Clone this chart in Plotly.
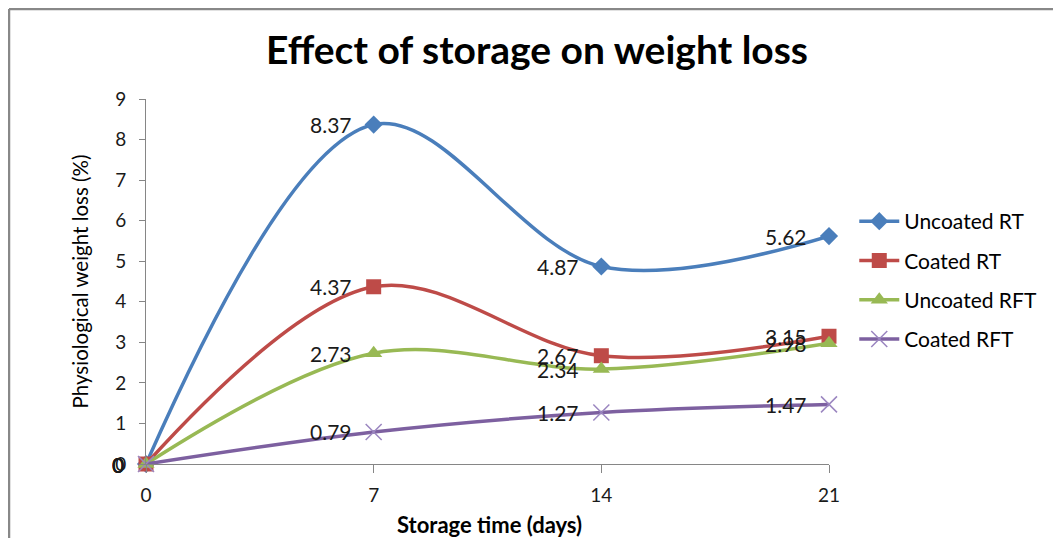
import plotly.graph_objects as go

days = [0, 7, 14, 21]
series_names = ["Uncoated RT", "Coated RT", "Uncoated RFT", "Coated RFT"]
uncoated_rt = [0, 8.37, 4.87, 5.62]
coated_rt = [0, 4.37, 2.67, 3.15]
uncoated_rft = [0, 2.73, 2.34, 2.98]
coated_rft = [0, 0.79, 1.27, 1.47]
y_ticks = [0, 1, 2, 3, 4, 5, 6, 7, 8, 9]
x_ticks = [0, 7, 14, 21]

values = [uncoated_rt, coated_rt, uncoated_rft, coated_rft]
colors = ["#4A7EBB", "#BE4B48", "#98B954", "#7D60A0"]
symbols = ["diamond", "square", "triangle-up", "x-thin"]
msizes = [14, 15, 15, 16]

FONT = "Lato"
# page body has an 8px margin; layout is built in figure coordinates
W, H = 1053, 530
L, R, T, B = 138, 232, 91, 74
PW, PH = W - L - R, H - T - B

fig = go.Figure()
for name, vals, c, s, ms in zip(series_names, values, colors, symbols, msizes):
    marker = dict(symbol=s, size=ms, color=c)
    if s == "x-thin":
        marker["line"] = dict(color="#9B86C0", width=1.5)
    fig.add_trace(go.Scatter(
        x=days, y=vals, name=name, mode="lines+markers",
        line=dict(color=c, width=3.5, shape="spline", smoothing=1.0),
        marker=marker, cliponaxis=False, legendgroup=name,
    ))

annotations = []
for vals in values:
    for d, v in zip(days, vals):
        annotations.append(dict(
            x=d, y=v, xref="x", yref="y", text=f"{v:g}", showarrow=False,
            xanchor="right", yanchor="middle", xshift=-20,
            font=dict(family=FONT, size=21, color="#1a1a1a"),
        ))
# x-axis title placed as annotation so it does not push the margin
annotations.append(dict(
    x=0.503, y=-60 / PH, xref="paper", yref="paper", text="<b>Storage time (days)</b>",
    showarrow=False, xanchor="center", yanchor="middle",
    font=dict(family=FONT, size=22, color="black"),
))

fig.update_layout(
    width=W, height=H,
    margin=dict(l=L, r=R, t=T, b=B, autoexpand=False),
    paper_bgcolor="white", plot_bgcolor="white",
    title=dict(text="<b>Effect of storage on weight loss</b>", x=529/W, xref="container",
               xanchor="center", y=1-42/H, yref="container", yanchor="middle",
               font=dict(family=FONT, size=39, color="black")),
    xaxis=dict(range=[0, 21], tickvals=x_ticks, showgrid=False, zeroline=False,
               showline=True, linecolor="#868686", linewidth=1,
               ticks="outside", ticklen=8, tickcolor="#868686",
               ticklabelstandoff=6, automargin=False,
               tickfont=dict(family=FONT, size=19, color="#1a1a1a")),
    yaxis=dict(range=[0, 9], tickvals=y_ticks, showgrid=False, zeroline=False,
               showline=True, linecolor="#868686", linewidth=1,
               ticks="outside", ticklen=6, tickcolor="#868686",
               ticklabelstandoff=9, automargin=False,
               tickfont=dict(family=FONT, size=19, color="#1a1a1a"),
               title=dict(text="Physiological weight loss (%)", standoff=20,
                          font=dict(family=FONT, size=20.5, color="black"))),
    legend=dict(x=1.037, y=(456 - 193) / PH, xanchor="left", yanchor="top",
                font=dict(family=FONT, size=21, color="black"),
                traceorder="grouped", tracegroupgap=9, itemwidth=40,
                bgcolor="rgba(0,0,0,0)"),
    annotations=annotations,
    shapes=[
        dict(type="line", xref="paper", yref="paper",
             x0=-(L - 1) / PW, x1=(W - L) / PW, y0=(PH + T - 1) / PH, y1=(PH + T - 1) / PH,
             line=dict(color="#888888", width=2.5)),
        dict(type="line", xref="paper", yref="paper",
             x0=-(L - 1) / PW, x1=-(L - 1) / PW, y0=(PH + T - 1) / PH, y1=-B / PH,
             line=dict(color="#888888", width=2.5)),
    ],
)

fig.write_html("out.html")
